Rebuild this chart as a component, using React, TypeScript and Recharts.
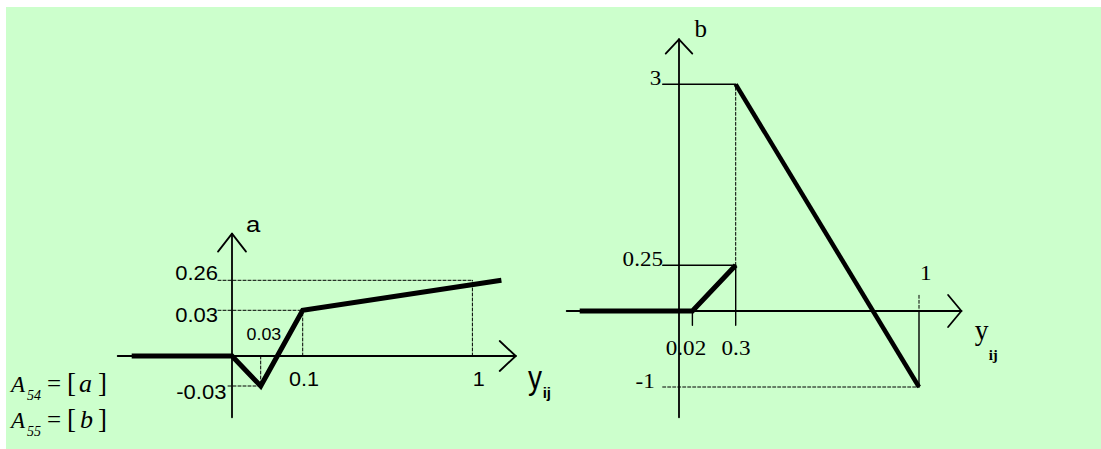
import React from 'react';
import { LineChart, Line, XAxis, YAxis, ReferenceLine, ReferenceDot } from 'recharts';

// ---------- diagram a  (A54 = [a]) ----------
const aCurveX = [-0.4, 0, 0.03, 0.1, 1.17];
const aCurveY = [0, 0, -0.03, 0.03, 0.26];
const aTicksX = [0.03, 0.1, 1];
const aTicksY = [-0.03, 0.03, 0.26];

// ---------- diagram b  (A55 = [b]) ----------
const bRiseX = [-0.4, 0.02, 0.3];
const bRiseY = [0, 0, 0.25];
const bFallX = [0.3, 1];
const bFallY = [3, -1];
const bTicksX = [0.02, 0.3, 1];
const bTicksY = [-1, 0.25, 3];

// schematic (not-to-scale) axes: value -> drawing slot (1 slot = 1px)
const aXAnchors = { v: [-0.4, 0, 0.03, 0.1, 1, 1.17], s: [-100.3, 0, 28.7, 70.7, 240.4, 269.4] };
const aYAnchors = { v: [-0.03, 0, 0.03, 0.26], s: [-30, 0, 45.7, 75.7] };
const bXAnchors = { v: [-0.4, 0, 0.02, 0.3, 1], s: [-99.3, 0, 13.4, 56.7, 240] };
const bYAnchors = { v: [-1, 0, 0.25, 3], s: [-76, 0, 45.7, 226.7] };

const mapper = (a: { v: number[]; s: number[] }) => (val: number) => {
  const { v, s } = a;
  let i = 0;
  while (i < v.length - 2 && val > v[i + 1]) i++;
  return s[i] + ((val - v[i]) * (s[i + 1] - s[i])) / (v[i + 1] - v[i]);
};
const axA = mapper(aXAnchors);
const ayA = mapper(aYAnchors);
const bxB = mapper(bXAnchors);
const byB = mapper(bYAnchors);

const aCurve = aCurveX.map((x, i) => ({ x: axA(x), y: ayA(aCurveY[i]) }));
const bRise = bRiseX.map((x, i) => ({ x: bxB(x), y: byB(bRiseY[i]) }));
const bFall = bFallX.map((x, i) => ({ x: bxB(x), y: byB(bFallY[i]) }));

// layout
const FA = { left: 107.3, top: 210.7, w: 450, h: 225, xDom: [-125, 325], yDom: [-80, 145] };
const FB = { left: 554.3, top: 15.7, w: 460, h: 415, xDom: [-125, 335], yDom: [-120, 295] };
const axisA = { x0: -114.3, x1: 283.7, y0: -61.3, y1: 122.4 };
const axisB = { x0: -112.3, x1: 282.4, y0: -106.3, y1: 271.7 };

const SANS = '"Liberation Sans", Arial, sans-serif';
const SERIF = '"Liberation Serif", "Times New Roman", serif';
const INK = '#000';

const aTickXPos = [
  { dx: 3.2, dy: -15.7, size: 16.5 },
  { dx: 1.2, dy: 30, size: 20 },
  { dx: 6.3, dy: 30, size: 20 },
];
const aTickYPos = [
  { dx: -5.6, dy: 12.6 },
  { dx: -14, dy: 12 },
  { dx: -14, dy: 0 },
];
const bTickXPos = [
  { dx: -6.4, dy: 44.3 },
  { dx: 0.3, dy: 44.3 },
  { dx: 6.7, dy: -30.7 },
];
const bTickYPos = [
  { dx: -24.3, dy: 1.3 },
  { dx: -16, dy: 1 },
  { dx: -17.6, dy: 1 },
];

let keyN = 0;
const seg = (x1: number, y1: number, x2: number, y2: number, opts: { w?: number; dash?: string } = {}) => (
  <ReferenceLine
    key={'s' + keyN++}
    segment={[{ x: x1, y: y1 }, { x: x2, y: y2 }]}
    stroke={INK}
    strokeWidth={opts.w ?? 1}
    strokeDasharray={opts.dash}
    strokeLinecap="round"
    ifOverflow="visible"
  />
);

const arrowAxes = (ax: { x0: number; x1: number; y0: number; y1: number }, xb: number, xw: number, yb: number, yw: number) => [
  seg(ax.x0, 0, ax.x1, 0, { w: 1.8 }),
  seg(0, ax.y0, 0, ax.y1, { w: 1.8 }),
  seg(ax.x1 - xb, xw, ax.x1, 0, { w: 1.8 }),
  seg(ax.x1 - xb, -xw, ax.x1, 0, { w: 1.8 }),
  seg(-yw, ax.y1 - yb, 0, ax.y1, { w: 1.8 }),
  seg(yw, ax.y1 - yb, 0, ax.y1, { w: 1.8 }),
];

const label = (
  x: number,
  y: number,
  text: string,
  o: { dx: number; dy: number; anchor: 'start' | 'middle' | 'end'; font: string; size: number; sx?: number; weight?: number }
) => (
  <ReferenceDot
    key={'l' + keyN++}
    x={x}
    y={y}
    r={0}
    ifOverflow="visible"
    shape={(p: any) => (
      <text
        transform={`translate(${p.cx + o.dx},${p.cy + o.dy}) scale(${o.sx ?? 1},1)`}
        textAnchor={o.anchor}
        fontFamily={o.font}
        fontSize={o.size}
        fontWeight={o.weight ?? 400}
        fill={INK}
      >
        {text}
      </text>
    )}
  />
);

const DASH = '3 2';

export default function App() {
  return (
    <div style={{ position: 'absolute', left: 0, top: 0, width: 1101, height: 449, background: '#fff', overflow: 'hidden' }}>
      <div style={{ position: 'absolute', left: 6, top: 7, width: 1095, height: 442, background: '#CCFFCC' }} />

      {/* diagram a */}
      <div style={{ position: 'absolute', left: FA.left, top: FA.top }}>
        <LineChart width={FA.w} height={FA.h} margin={{ top: 0, right: 0, bottom: 0, left: 0 }}>
          <XAxis type="number" dataKey="x" domain={FA.xDom} hide allowDataOverflow />
          <YAxis type="number" domain={FA.yDom} hide allowDataOverflow />
          {arrowAxes(axisA, 16, 15, 18, 14)}
          {seg(-14, ayA(0.26), axA(1), ayA(0.26), { dash: DASH })}
          {seg(-14, ayA(0.03), axA(0.1), ayA(0.03), { dash: DASH })}
          {seg(-4, ayA(-0.03), axA(0.03), ayA(-0.03), { dash: DASH })}
          {seg(axA(0.1), 0, axA(0.1), ayA(0.03), { dash: DASH })}
          {seg(axA(1), 0, axA(1), ayA(0.26), { dash: DASH })}
          {seg(axA(0.03), 0, axA(0.03), ayA(-0.03), { dash: DASH })}
          <Line data={aCurve} dataKey="y" stroke={INK} strokeWidth={5} dot={false} activeDot={false} isAnimationActive={false} />
          {aTicksY.map((v, i) =>
            label(0, ayA(v), String(v), { ...aTickYPos[i], anchor: 'end', font: SANS, size: 20, sx: 1.1 })
          )}
          {aTicksX.map((v, i) =>
            label(axA(v), 0, String(v), { dx: aTickXPos[i].dx, dy: aTickXPos[i].dy, anchor: 'middle', font: SANS, size: aTickXPos[i].size, sx: 1.08 })
          )}
          {label(0, axisA.y1, 'a', { dx: 21.2, dy: -1.3, anchor: 'middle', font: SANS, size: 23, sx: 1.12 })}
          {label(axisA.x1, 0, 'y', { dx: 12.3, dy: 32.6, anchor: 'start', font: SANS, size: 33, sx: 0.85 })}
          {label(axisA.x1, 0, 'ij', { dx: 27, dy: 41.8, anchor: 'start', font: SANS, size: 15, weight: 700 })}
        </LineChart>
      </div>

      {/* diagram b */}
      <div style={{ position: 'absolute', left: FB.left, top: FB.top }}>
        <LineChart width={FB.w} height={FB.h} margin={{ top: 0, right: 0, bottom: 0, left: 0 }}>
          <XAxis type="number" dataKey="x" domain={FB.xDom} hide allowDataOverflow />
          <YAxis type="number" domain={FB.yDom} hide allowDataOverflow />
          {arrowAxes(axisB, 13.3, 16, 14.3, 13.3)}
          {seg(-16.3, byB(3), bxB(0.3), byB(3), { w: 1.4 })}
          {seg(-16.3, byB(0.25), bxB(0.3), byB(0.25), { w: 1.4 })}
          {seg(-16.3, byB(-1), bxB(1), byB(-1), { dash: DASH })}
          {seg(bxB(0.3), byB(0.25), bxB(0.3), byB(3), { dash: DASH })}
          {seg(bxB(0.3), -14.3, bxB(0.3), byB(0.25), { w: 1.4 })}
          {seg(bxB(0.02), -14.3, bxB(0.02), 0, { w: 1.4 })}
          {seg(bxB(1), 15.7, bxB(1), 0, { dash: DASH })}
          {seg(bxB(1), 0, bxB(1), byB(-1), { w: 1.4 })}
          <Line data={bRise} dataKey="y" stroke={INK} strokeWidth={5} dot={false} activeDot={false} isAnimationActive={false} />
          <Line data={bFall} dataKey="y" stroke={INK} strokeWidth={4.5} dot={false} activeDot={false} isAnimationActive={false} />
          {bTicksY.map((v, i) =>
            label(0, byB(v), String(v), { ...bTickYPos[i], anchor: 'end', font: SERIF, size: 22, sx: 1.05 })
          )}
          {bTicksX.map((v, i) =>
            label(bxB(v), 0, String(v), { ...bTickXPos[i], anchor: 'middle', font: SERIF, size: 22, sx: 1.05 })
          )}
          {label(0, axisB.y1, 'b', { dx: 21.7, dy: -2.3, anchor: 'middle', font: SERIF, size: 25 })}
          {label(axisB.x1, 0, 'y', { dx: 13.3, dy: 28.6, anchor: 'start', font: SERIF, size: 29, sx: 0.95 })}
          {label(axisB.x1, 0, 'ij', { dx: 27.3, dy: 48.8, anchor: 'start', font: SERIF, size: 15, weight: 700 })}
        </LineChart>
      </div>

      {/* matrix notation */}
      <svg width={140} height={89} style={{ position: 'absolute', left: 0, top: 360 }}>
        <g fill={INK} fontFamily={SERIF}>
          <text x={11} y={32} fontSize={23} fontStyle="italic">A</text>
          <text x={27} y={40} fontSize={14} fontStyle="italic">54</text>
          <text x={47} y={32} fontSize={25}>=</text>
          <text x={67} y={32} fontSize={27}>[</text>
          <text x={79} y={32} fontSize={26} fontStyle="italic">a</text>
          <text x={98} y={32} fontSize={27}>]</text>
          <text x={11} y={68} fontSize={23} fontStyle="italic">A</text>
          <text x={27} y={76} fontSize={14} fontStyle="italic">55</text>
          <text x={47} y={68} fontSize={25}>=</text>
          <text x={67} y={68} fontSize={27}>[</text>
          <text x={80} y={68} fontSize={26} fontStyle="italic">b</text>
          <text x={98} y={68} fontSize={27}>]</text>
        </g>
      </svg>
    </div>
  );
}
